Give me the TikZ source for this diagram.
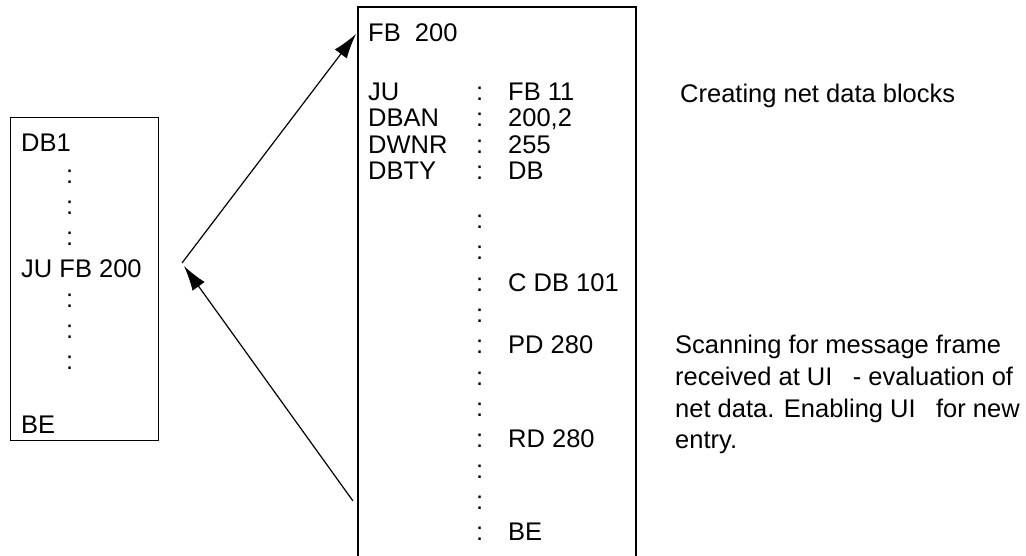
\documentclass[tikz,border=0pt]{standalone}
\usepackage{fontspec}
\setmainfont{Liberation Sans}
\usetikzlibrary{arrows.meta}
\begin{document}
\begin{tikzpicture}[x=1pt, y=-1pt,
  txt/.style={anchor=base west, inner sep=0pt, font=\fontsize{25.5}{30}\selectfont},
  frame/.style={draw, line width=1.3pt},
  link/.style={line width=1.2pt, -{Latex[length=25pt, width=15pt]}}]
\useasboundingbox (0,0) rectangle (1026,555);

% calling data block
\node[frame, minimum width=148pt, minimum height=323pt, inner sep=0pt, anchor=north west] (db) at (10,117) {};
\node[txt] (db1) at (21,151) {DB1};
\foreach \y [count=\i] in {183,214,245,307,338,369}
  \node[txt] (lc\i) at (66,\y) {:};
\node[txt] (ju) at (21,277) {JU FB 200};
\node[txt] (lbe) at (21,433) {BE};

% function block FB 200 (open at the bottom)
\draw[line width=1.3pt] (358,560) -- (358,7) -- (636,7) -- (636,560);
\node[txt] (fb) at (368,41) {FB\ \ 200};
\node[txt] (k1) at (368,100) {JU};
\node[txt] (k2) at (368,126) {DBAN};
\node[txt] (k3) at (368,153) {DWNR};
\node[txt] (k4) at (368,179) {DBTY};
\foreach \y [count=\i] in {100,126,153,179,228,259,291,322,353,385,416,447,478,509,540}
  \node[txt] (rc\i) at (476,\y) {:};
\node[txt] (v1) at (508,100) {FB 11};
\node[txt] (v2) at (508,126) {200,2};
\node[txt] (v3) at (508,153) {255};
\node[txt] (v4) at (508,179) {DB};
\node[txt] (v5) at (508,291) {C DB 101};
\node[txt] (v6) at (508,353) {PD 280};
\node[txt] (v7) at (508,447) {RD 280};
\node[txt] (v8) at (508,540) {BE};

% comments
\node[txt] (n1) at (680,102) {Creating net data blocks};
\node[txt] (n2) at (675,353) {Scanning for message frame};
\node[txt] (n3) at (675,385) {received at UI\hspace{0.8em}- evaluation of};
\node[txt] (n4) at (675,417) {net data. Enabling UI\hspace{0.8em}for new};
\node[txt] (n5) at (675,448) {entry.};

% call and return
\coordinate (call) at (182,263);
\coordinate (callret) at (184,266);
\coordinate (entry) at (356,34);
\coordinate (exit) at (353,501);
\draw[link] (call) -- (entry);
\draw[link] (exit) -- (callret);
\end{tikzpicture}
\end{document}
